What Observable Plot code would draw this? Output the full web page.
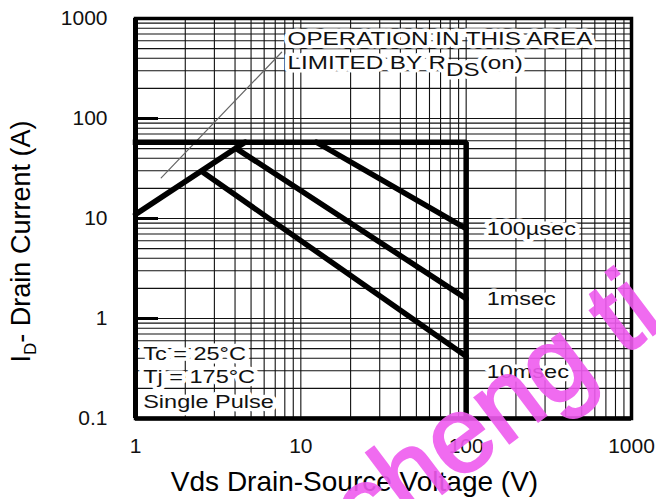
<!DOCTYPE html>
<html><head><meta charset="utf-8">
<script src="https://cdn.jsdelivr.net/npm/d3@7"></script>
<script src="https://cdn.jsdelivr.net/npm/@observablehq/plot@0.6"></script>
<style>
body{margin:0;background:#fff;}
#wrap{position:relative;width:656px;height:499px;overflow:hidden;background:#fff;}
#wm{position:absolute;font-family:"Liberation Sans",Arial,sans-serif;font-weight:normal;font-size:108px;line-height:1;color:#ef5bef;opacity:0.9;white-space:nowrap;pointer-events:none;transform-origin:0 97px;transform:rotate(-37deg);-webkit-text-stroke:2.5px #ef5bef;}
</style></head><body>
<div id="wrap"></div>
<script>
// ---- axes ----
const xTicks = [1, 10, 100, 1000];
const xTickLabels = ["1", "10", "100", "1000"];
const yTicks = [0.1, 1, 10, 100, 1000];
const yTickLabels = ["0.1", "1", "10", "100", "1000"];
const minorSteps = [1, 2, 3, 4, 5, 6, 7, 8, 9];
const xDecades = [1, 10, 100];
const yDecades = [0.1, 1, 10, 100];
const yMajorMarks = [1, 10, 100];
const xTitle = "Vds Drain-Source Voltage (V)";
const yTitle = "- Drain Current (A)";

// ---- SOA boundaries: [Vds (V), Id (A)] ----
const rdsLimit = [[1, 11], [4.6, 58]];
const currentVoltageLimit = [[1, 58], [100, 58], [100, 0.1]];
const pulse100us = [[12.4, 58], [100, 7.9]];
const pulse1ms = [[4.1, 49.7], [100, 1.58]];
const pulse10ms = [[2.57, 28.8], [100, 0.42]];
const rdsGuide = [[1.43, 25.5], [7.65, 460]];

// ---- annotations ----
const pulseLabels = ["100µsec", "1msec", "10msec"];
const pulseLabelY = [7.9, 1.57, 0.29];
const condLabels = ["Tc = 25°C", "Tj = 175°C", "Single Pulse"];
const condLabelY = [0.44, 0.257, 0.146];
const areaLabels = ["OPERATION IN THIS AREA", "LIMITED BY R"];
const areaLabelY = [626, 359];
const watermark = "cheng ti";

const xGrid = xDecades.flatMap(d => minorSteps.map(m => m * d)).concat([1000]);
const yGrid = yDecades.flatMap(d => minorSteps.map(m => m * d)).concat([1000]);

const font = "Liberation Sans, Arial, Helvetica, sans-serif";
const halo = {stroke: "white", strokeWidth: 7, strokeLinejoin: "round", paintOrder: "stroke"};

const chart = Plot.plot({
  width: 656, height: 499,
  marginLeft: 135, marginRight: 25, marginTop: 18, marginBottom: 81,
  style: {fontFamily: font, fontSize: "21px", color: "#111", background: "#fff"},
  x: {type: "log", domain: [1, 1000], ticks: xTicks, tickFormat: d => xTickLabels[xTicks.indexOf(d)], tickSize: 0, tickPadding: 20, label: null},
  y: {type: "log", domain: [0.1, 1000], ticks: yTicks, tickFormat: d => yTickLabels[yTicks.indexOf(d)], tickSize: 0, tickPadding: 28, label: null},
  marks: [
    Plot.gridX(xGrid, {stroke: "#111", strokeOpacity: 1, strokeWidth: 1.1}),
    Plot.gridY(yGrid, {stroke: "#111", strokeOpacity: 1, strokeWidth: 1.1}),
    Plot.line(rdsGuide, {x: d => d[0], y: d => d[1], stroke: "#666", strokeWidth: 1.2}),
    Plot.line(rdsLimit, {x: d => d[0], y: d => d[1], stroke: "#000", strokeWidth: 5.5}),
    Plot.line(currentVoltageLimit, {x: d => d[0], y: d => d[1], stroke: "#000", strokeWidth: 5.5, strokeLinejoin: "miter", strokeLinecap: "square"}),
    Plot.line(pulse100us, {x: d => d[0], y: d => d[1], stroke: "#000", strokeWidth: 5.5}),
    Plot.line(pulse1ms, {x: d => d[0], y: d => d[1], stroke: "#000", strokeWidth: 5.5}),
    Plot.line(pulse10ms, {x: d => d[0], y: d => d[1], stroke: "#000", strokeWidth: 5.5}),
    Plot.tickY(yMajorMarks, {y: d => d, stroke: "#000", strokeWidth: 3, insetRight: 473}),
    Plot.text(pulseLabels, {x: 133, y: (d, i) => pulseLabelY[i], text: d => d, textAnchor: "start", fontSize: 18.5, fill: "#111", ...halo}),
    Plot.text(condLabels, {x: 1.113, y: (d, i) => condLabelY[i], text: d => d, textAnchor: "start", fontSize: 18.5, fill: "#111", ...halo}),
    Plot.text(areaLabels, {x: 8.31, y: (d, i) => areaLabelY[i], text: d => d, textAnchor: "start", fontSize: 18.5, fill: "#111", ...halo}),
    Plot.ruleX([1], {stroke: "#000", strokeWidth: 5}),
    Plot.ruleY([0.1], {stroke: "#000", strokeWidth: 4.5}),
    Plot.frame({stroke: "#000", strokeWidth: 3.5}),
    Plot.text([xTitle], {frameAnchor: "bottom", text: d => d, textAnchor: "middle", lineAnchor: "bottom", dx: -29, dy: 72, fontSize: 28, fill: "#000"}),
    Plot.text([yTitle], {frameAnchor: "left", text: d => d, textAnchor: "middle", lineAnchor: "middle", rotate: -90, dx: -114, dy: 23, fontSize: 27, fill: "#000"})
  ]
});

const wrap = document.getElementById("wrap");
wrap.append(chart);

const stretchSet = new Set([...pulseLabels, ...condLabels, ...areaLabels]);
d3.select(chart).selectAll("text").each(function() {
  const content = this.textContent;
  const t = d3.select(this);
  if (content === yTitle) {
    t.text(null);
    t.append("tspan").text("I");
    t.append("tspan").attr("font-size", "17px").attr("dy", 6).text("D");
    t.append("tspan").attr("dy", -6).text(yTitle);
  } else if (stretchSet.has(content)) {
    const k = areaLabels.includes(content) ? 1.31 : 1.27;
    if (content === "LIMITED BY R") {
      t.append("tspan").attr("dy", 7).text("DS");
      t.append("tspan").attr("dy", -7).text("(on)");
    }
    const w = this.getComputedTextLength();
    this.setAttribute("textLength", (w * k).toFixed(1));
    this.setAttribute("lengthAdjust", "spacingAndGlyphs");
  }
});

const wm = document.createElement("div");
wm.id = "wm";
wm.textContent = watermark;
wm.style.left = "368px";
wm.style.top = "460px";
wrap.append(wm);
</script>
</body></html>
